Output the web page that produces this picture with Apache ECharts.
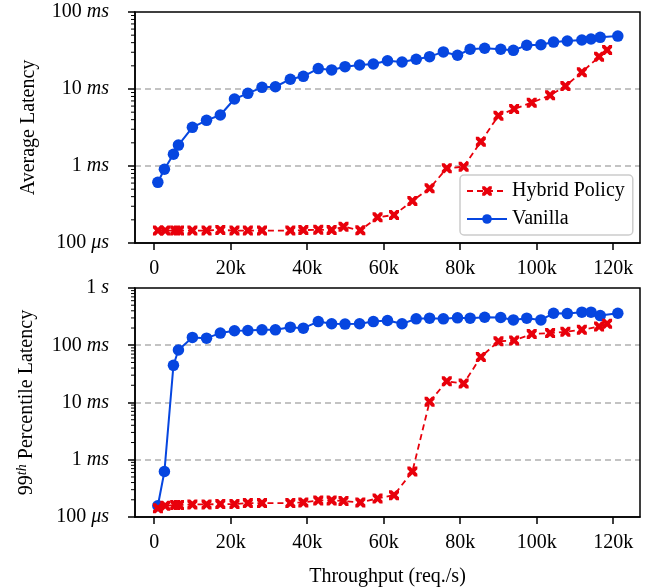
<!DOCTYPE html>
<html>
<head>
<meta charset="utf-8">
<script src="https://cdn.jsdelivr.net/npm/echarts@6/dist/echarts.min.js"></script>
<style>
html,body{margin:0;padding:0;background:#fff;}
#chart{width:649px;height:588px;}
</style>
</head>
<body>
<div id="chart"></div>
<script>
// ---- data (throughput in req/s, latency in ms) ----
const vanillaX = [970, 2690, 5050, 6350, 10000, 13700, 17300, 21000, 24500, 28200, 31700, 35600, 39000, 42900, 46400, 49900, 53700, 57300, 61000, 64800, 68500, 72000, 75600, 79300, 82600, 86400, 90600, 93900, 97400, 101100, 104400, 108000, 111800, 114200, 116600, 121200];
const vanillaAvg = [0.614, 0.906, 1.42, 1.87, 3.18, 3.92, 4.6, 7.41, 8.79, 10.5, 10.7, 13.4, 14.6, 18.4, 17.7, 19.5, 20.5, 21.1, 23.3, 22.4, 24.3, 26.3, 30.3, 27.4, 32.8, 33.8, 32.8, 31.8, 37.0, 37.6, 40.7, 42.0, 43.3, 44.6, 46.9, 48.7];
const vanillaP99 = [0.157, 0.622, 44.6, 82.5, 137, 133, 163, 179, 181, 186, 186, 207, 199, 259, 237, 234, 237, 259, 270, 237, 289, 297, 289, 301, 297, 309, 305, 277, 297, 277, 362, 357, 378, 378, 330, 362];

const hybridX = [1000, 2900, 5500, 6500, 10000, 13700, 17300, 21000, 24500, 28200, 35600, 39000, 42900, 46400, 49500, 53900, 58400, 62700, 67500, 72000, 76500, 80900, 85400, 90000, 94100, 98700, 103500, 107500, 111800, 116300, 118400];
const hybridAvg = [0.145, 0.145, 0.145, 0.145, 0.145, 0.145, 0.148, 0.145, 0.145, 0.145, 0.145, 0.147, 0.149, 0.147, 0.163, 0.146, 0.216, 0.231, 0.351, 0.513, 0.933, 0.98, 2.07, 4.5, 5.5, 6.65, 8.28, 10.9, 16.5, 26.3, 32.1];
const hybridP99 = [0.142, 0.157, 0.162, 0.162, 0.166, 0.166, 0.168, 0.168, 0.175, 0.175, 0.175, 0.180, 0.195, 0.195, 0.190, 0.180, 0.211, 0.241, 0.622, 10.3, 23.5, 21.4, 62.3, 117, 121, 158, 163, 172, 186, 212, 237];

const xTickValues = [0, 20000, 40000, 60000, 80000, 100000, 120000];
const xTickLabels = ['0', '20k', '40k', '60k', '80k', '100k', '120k'];
const yTickValues = [0.1, 1, 10, 100, 1000];
const yTickLabels = ['100 {i|\u03bcs}', '1 {i|ms}', '10 {i|ms}', '100 {i|ms}', '1 {i|s}'];
const minorTickValues = [];
[0.1, 1, 10, 100].forEach(d => { for (let k = 2; k <= 9; k++) minorTickValues.push(+(d * k).toPrecision(3)); });

const seriesNames = ['Hybrid Policy', 'Vanilla'];
const yTitleTop = 'Average Latency';
const yTitleBottom = '99{sup|th} Percentile Latency';
const xTitle = 'Throughput (req./s)';

// ---- styling ----
const FONT = 'Liberation Serif, Times New Roman, serif';
const BLUE = '#0646e0';
const RED = '#e8000b';
const XPATH = 'path://M0,0 L2.8,0 L5,2.2 L7.2,0 L10,0 L10,2.8 L7.8,5 L10,7.2 L10,10 L7.2,10 L5,7.8 L2.8,10 L0,10 L0,7.2 L2.2,5 L0,2.8 Z';

function pair(xs, ys) { return xs.map((x, i) => [x, ys[i]]); }
function yFmt(v) {
  let best = 0, bd = Infinity;
  yTickValues.forEach((t, i) => { const d = Math.abs(Math.log10(v) - Math.log10(t)); if (d < bd) { bd = d; best = i; } });
  return yTickLabels[best];
}
function xFmt(v) {
  const i = xTickValues.indexOf(v);
  return i >= 0 ? xTickLabels[i] : '';
}

const chart = echarts.init(document.getElementById('chart'), null, { renderer: 'canvas' });

const grids = [
  { left: 135, right: 9, top: 12, height: 231, show: true, borderColor: '#000', borderWidth: 1.5, z: 3 },
  { left: 135, right: 9, top: 288, height: 230, show: true, borderColor: '#000', borderWidth: 1.5, z: 3 }
];

function xAxis(gi, withName) {
  return {
    type: 'value', gridIndex: gi, min: -5000, max: 127000,
    axisLine: { show: true, onZero: false, lineStyle: { color: '#000', width: 1.5 } },
    axisTick: { show: true, customValues: xTickValues, length: 7, lineStyle: { color: '#000', width: 1.5 } },
    axisLabel: { customValues: xTickValues, formatter: xFmt, fontFamily: FONT, fontSize: 20, color: '#000', margin: 16 },
    splitLine: { show: false },
    name: withName ? xTitle : '', nameLocation: 'middle', nameGap: 50,
    nameTextStyle: { fontFamily: FONT, fontSize: 20, color: '#000' }
  };
}
function yAxis(gi, max, title) {
  return {
    type: 'log', logBase: 10, gridIndex: gi, min: 0.1, max: max, interval: 1,
    axisLine: { show: true, onZero: false, lineStyle: { color: '#000', width: 1.5 } },
    axisTick: { show: true, length: 7, lineStyle: { color: '#000', width: 1.5 } },
    axisLabel: {
      formatter: yFmt, fontFamily: FONT, fontSize: 20, color: '#000', margin: 26,
      rich: { i: { fontFamily: FONT, fontSize: 20, fontStyle: 'italic', color: '#000' } }
    },
    splitLine: { show: true, showMinLine: false, showMaxLine: false, lineStyle: { color: '#b0b0b0', type: [6, 4], width: 1.5 } },
    name: title, nameLocation: 'middle', nameGap: 96, nameRotate: 90,
    nameTextStyle: {
      fontFamily: FONT, fontSize: 20, color: '#000',
      rich: { sup: { fontFamily: FONT, fontSize: 14, fontStyle: 'italic', color: '#000', verticalAlign: 'top', padding: [0, 0, 10, 0] } }
    }
  };
}

function minorTicks(gi) {
  return {
    type: 'custom', xAxisIndex: gi, yAxisIndex: gi, silent: true, clip: false, z: 4,
    data: minorTickValues.map(v => [0, v]),
    renderItem: function (params, api) {
      const y = api.coord([0, api.value(1)])[1];
      const x0 = params.coordSys.x;
      return { type: 'line', shape: { x1: x0 - 4, y1: y, x2: x0, y2: y }, style: { stroke: '#000', lineWidth: 1 } };
    },
    tooltip: { show: false }
  };
}

function vanilla(gi, ys) {
  return {
    name: seriesNames[1], type: 'line', xAxisIndex: gi, yAxisIndex: gi, data: pair(vanillaX, ys),
    symbol: 'circle', symbolSize: 11.5, showAllSymbol: true,
    itemStyle: { color: BLUE }, lineStyle: { color: BLUE, width: 2 }, z: 5, animation: false
  };
}
function hybrid(gi, ys) {
  return {
    name: seriesNames[0], type: 'line', xAxisIndex: gi, yAxisIndex: gi, data: pair(hybridX, ys),
    symbol: XPATH, symbolSize: 10, showAllSymbol: true,
    itemStyle: { color: RED }, lineStyle: { color: RED, width: 1.8, type: [6, 4] }, z: 6, animation: false
  };
}

chart.setOption({
  animation: false,
  backgroundColor: '#fff',
  grid: grids,
  xAxis: [xAxis(0, false), xAxis(1, true)],
  yAxis: [yAxis(0, 100, yTitleTop), yAxis(1, 1000, yTitleBottom)],
  legend: {
    data: seriesNames, orient: 'vertical', left: 460, top: 175,
    itemWidth: 40, itemHeight: 12, itemGap: 8,
    padding: [6, 8, 6, 6],
    backgroundColor: 'rgba(255,255,255,0.85)', borderColor: '#cccccc', borderWidth: 1.5, borderRadius: 4,
    textStyle: { fontFamily: FONT, fontSize: 20, color: '#000' }
  },
  series: [
    minorTicks(0), minorTicks(1),
    vanilla(0, vanillaAvg), hybrid(0, hybridAvg),
    vanilla(1, vanillaP99), hybrid(1, hybridP99)
  ]
});
</script>
</body>
</html>
